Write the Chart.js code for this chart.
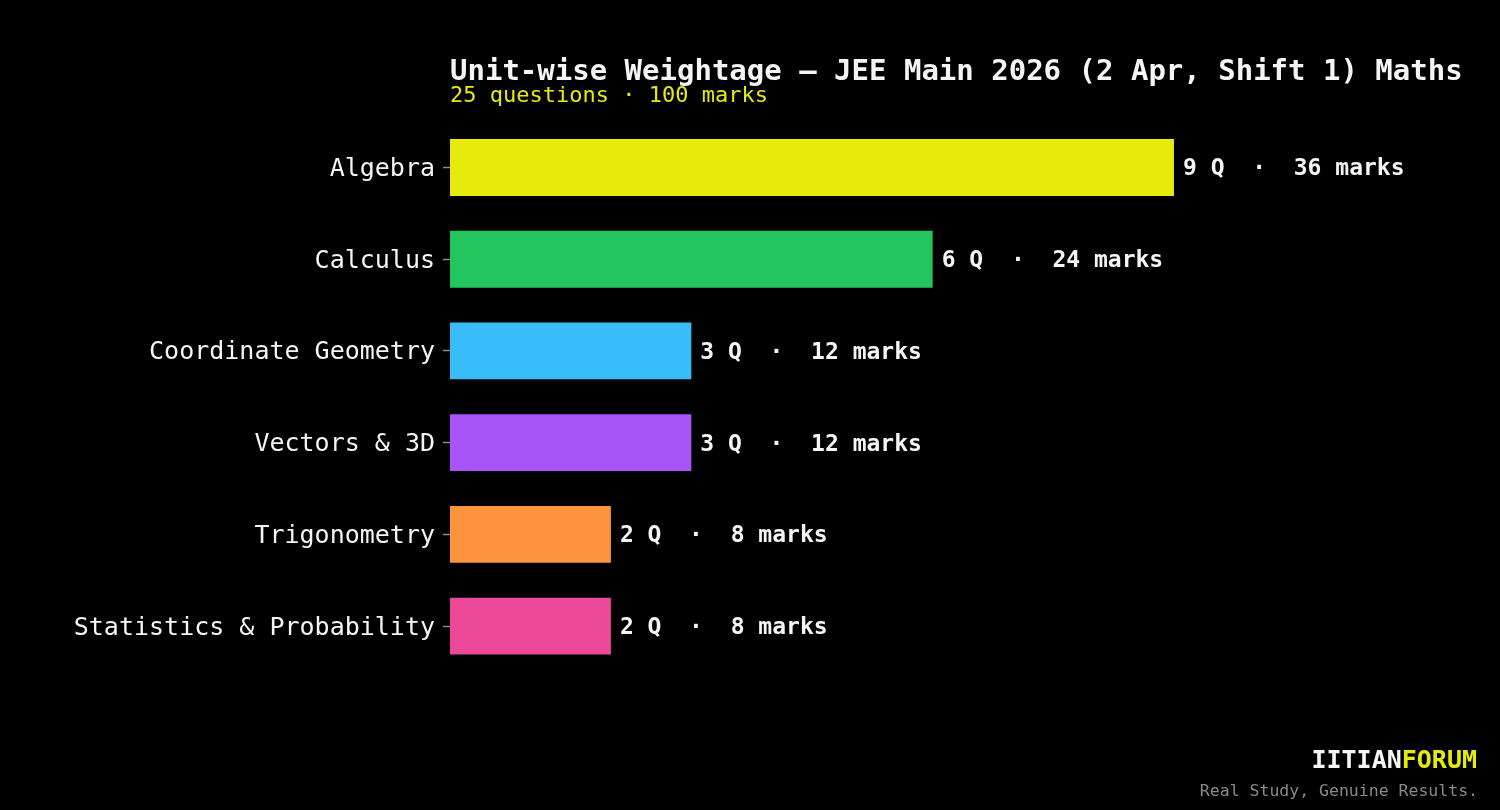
<!DOCTYPE html>
<html>
<head>
<meta charset="utf-8">
<script src="https://cdn.jsdelivr.net/npm/chart.js"></script>
<style>
  html, body { margin: 0; padding: 0; background: #000; }
  #wrap { width: 1500px; height: 810px; position: relative; }
</style>
</head>
<body>
<div id="wrap"><canvas id="chart"></canvas></div>
<script>
// datos del grafico
const unidades = ['Algebra', 'Calculus', 'Coordinate Geometry', 'Vectors & 3D', 'Trigonometry', 'Statistics & Probability'];
const preguntas = [9, 6, 3, 3, 2, 2];
const marcas = [36, 24, 12, 12, 8, 8];
const colores = ['#e6eb0b', '#22c55e', '#38bdf8', '#a855f7', '#fb943c', '#ec4899'];

const FUENTE = '"DejaVu Sans Mono", monospace';

// etiquetas al final de cada barra + titulo + marca de agua
const textosPlugin = {
    id: 'textos',
    afterDatasetsDraw(chart) {
        const ctx = chart.ctx;
        const meta = chart.getDatasetMeta(0);
        ctx.save();
        ctx.font = 'bold 23px ' + FUENTE;
        ctx.fillStyle = '#f5f5f5';
        ctx.textAlign = 'left';
        ctx.textBaseline = 'middle';
        meta.data.forEach((bar, i) => {
            ctx.fillText(preguntas[i] + ' Q  \u00b7  ' + marcas[i] + ' marks', bar.x + 9, bar.y + 2);
        });
        ctx.restore();
    },
    afterDraw(chart) {
        const ctx = chart.ctx;
        const izq = chart.chartArea.left;
        ctx.save();
        ctx.textBaseline = 'middle';
        ctx.textAlign = 'left';
        ctx.font = 'bold 29px ' + FUENTE;
        ctx.fillStyle = '#f5f5f5';
        ctx.fillText('Unit-wise Weightage \u2014 JEE Main 2026 (2 Apr, Shift 1) Maths', izq, 72);
        ctx.font = '22px ' + FUENTE;
        ctx.fillStyle = '#e6eb0b';
        ctx.fillText('25 questions \u00b7 100 marks', izq, 96);

        // marca de agua
        ctx.textAlign = 'right';
        ctx.font = 'bold 25px ' + FUENTE;
        const w2 = ctx.measureText('FORUM').width;
        ctx.fillStyle = '#e6eb0b';
        ctx.fillText('FORUM', 1477, 761);
        ctx.fillStyle = '#f5f5f5';
        ctx.fillText('IITIAN', 1477 - w2, 761);
        ctx.font = '16.5px ' + FUENTE;
        ctx.fillStyle = '#8a8a8a';
        ctx.fillText('Real Study, Genuine Results.', 1478, 792);
        ctx.restore();
    }
};

new Chart(document.getElementById('chart').getContext('2d'), {
    type: 'bar',
    data: {
        labels: unidades,
        datasets: [{
            data: preguntas,
            backgroundColor: colores,
            borderWidth: 0,
            categoryPercentage: 1,
            barPercentage: 0.62
        }]
    },
    options: {
        indexAxis: 'y',
        responsive: true,
        maintainAspectRatio: false,
        animation: false,
        layout: {
            padding: { top: 121.6, bottom: 138, left: 0, right: 44.5 }
        },
        plugins: {
            legend: { display: false },
            tooltip: { enabled: false }
        },
        scales: {
            x: {
                display: false,
                min: 0,
                max: 12.5
            },
            y: {
                afterFit(scale) { scale.width = 450; },
                border: { display: false },
                grid: {
                    offset: false,
                    drawOnChartArea: false,
                    drawTicks: true,
                    tickLength: 7,
                    tickColor: '#8a8a8a',
                    tickWidth: 1.5
                },
                ticks: {
                    color: '#f5f5f5',
                    padding: 8,
                    labelOffset: 2,
                    font: { family: FUENTE, size: 25 }
                }
            }
        }
    },
    plugins: [textosPlugin]
});
</script>
</body>
</html>
